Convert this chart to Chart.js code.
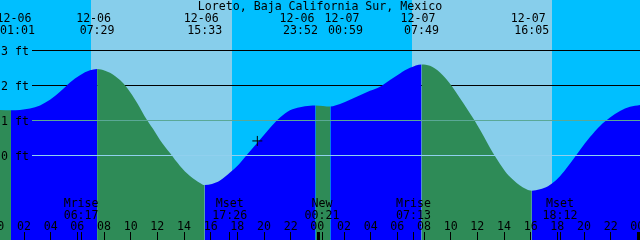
<!DOCTYPE html>
<html>
<head>
<meta charset="utf-8">
<title>Loreto tides</title>
<script src="https://cdn.jsdelivr.net/npm/chart.js"></script>
<style>
  body { margin: 0; background: #fff; }
  canvas { display: block; }
</style>
</head>
<body>
<canvas id="tides" width="640" height="240"></canvas>
<script>
const stationName = 'Loreto, Baja California Sur, Mexico';

// hours are counted from 12-06 00:00, heights in feet
const tideHours = [
  0.2, 1.017, 1.7, 2.45, 3.2, 3.95, 4.7, 5.45, 6.2, 6.95, 7.483,
  8.075, 8.45, 9.2, 9.725, 10.475, 11.225, 11.825, 12.2, 12.95, 13.7, 14.45, 15.2, 15.55,
  16.1, 16.7, 17.45, 18.07, 18.69, 19.5, 20.3, 21.2, 21.95, 22.7, 23.45, 23.867,
  24.983, 25.7, 26.45, 27.2, 27.95, 28.7, 29.45, 30.2, 30.95, 31.817,
  32.45, 33.2, 33.65, 34.08, 34.7, 35.77, 36.7, 37.175, 37.7, 38.225, 38.7, 39.2, 39.65, 40.083,
  40.7, 41.3, 41.9, 42.5, 43.1, 43.7, 44.45, 45.2, 45.95, 46.7, 47.45, 48.2];
const tideFeet = [
  1.30, 1.29, 1.30, 1.34, 1.43, 1.59, 1.82, 2.09, 2.30, 2.44, 2.48,
  2.43, 2.37, 2.16, 1.94, 1.51, 1.01, 0.67, 0.44, 0.06, -0.31, -0.60, -0.80, -0.86,
  -0.83, -0.73, -0.50, -0.28, 0.00, 0.36, 0.72, 1.08, 1.29, 1.38, 1.42, 1.43,
  1.40, 1.47, 1.59, 1.72, 1.85, 1.97, 2.16, 2.35, 2.51, 2.61,
  2.57, 2.38, 2.20, 1.99, 1.64, 1.01, 0.39, 0.06, -0.25, -0.53, -0.71, -0.87, -0.97, -1.02,
  -0.98, -0.89, -0.72, -0.47, -0.17, 0.15, 0.52, 0.84, 1.08, 1.27, 1.39, 1.44];

// high / low water
const eventHours = [1.017, 7.483, 15.55, 23.867, 24.983, 31.817, 40.083];
const eventDates = ['12-06', '12-06', '12-06', '12-06', '12-07', '12-07', '12-07'];
const eventTimes = ['01:01', '07:29', '15:33', '23:52', '00:59', '07:49', '16:05'];

const sunriseHours = [7.03, 31.08];
const sunsetHours = [17.58, 41.58];

const moonHours = [6.283, 17.433, 24.35, 31.217, 42.2];
const moonNames = ['Mrise', 'Mset', 'New', 'Mrise', 'Mset'];
const moonTimes = ['06:17', '17:26', '00:21', '07:13', '18:12'];

const depthLevels = [3, 2, 1, 0];
const depthLabels = ['3 ft', '2 ft', '1 ft', '0 ft'];
const mslFeet = 1;
const datumFeet = 0;

const hourTicks = [0, 2, 4, 6, 8, 10, 12, 14, 16, 18, 20, 22, 24, 26, 28, 30, 32, 34, 36, 38, 40, 42, 44, 46, 48];
const hourLabels = ['00', '02', '04', '06', '08', '10', '12', '14', '16', '18', '20', '22',
  '00', '02', '04', '06', '08', '10', '12', '14', '16', '18', '20', '22', '00'];

const markHour = 19.5;
const markFeet = 0.41;

const FONT = '11.6px "DejaVu Sans Mono"';
const NIGHT = '#00bfff';
const DAY = '#87ceeb';
const FLOOD = '#0000ff';
const EBB = '#2e8b57';
const MSL = '#5aa896';
const DATUM = '#90d0ee';
const LABEL_W = 35;   // five characters
const LABEL_GAP = 10;

const tidePoints = tideHours.map((h, i) => ({ x: h, y: tideFeet[i] }));

// centre of each high/low label, kept on the canvas and pushed apart when two collide
function labelCentres(xs, right) {
  const cs = xs.map(px => Math.min(Math.max(px, LABEL_W / 2), right - LABEL_W / 2));
  for (let i = 0; i < cs.length - 1; i++) {
    const short = LABEL_W + LABEL_GAP - (cs[i + 1] - cs[i]);
    if (short > 0) {
      cs[i] -= short / 2;
      cs[i + 1] += short / 2;
    }
  }
  return cs;
}

const backdrop = {
  id: 'backdrop',
  beforeDatasetsDraw(chart) {
    const { ctx, chartArea: a, scales: { x, y } } = chart;
    ctx.save();
    ctx.fillStyle = NIGHT;
    ctx.fillRect(a.left, a.top, a.width, a.height);
    ctx.fillStyle = DAY;
    sunriseHours.forEach((h, i) => {
      const x0 = Math.round(x.getPixelForValue(h));
      const x1 = Math.round(x.getPixelForValue(sunsetHours[i]));
      ctx.fillRect(x0, a.top, x1 - x0, a.height);
    });
    ctx.strokeStyle = '#000';
    ctx.lineWidth = 1;
    depthLevels.forEach(d => {
      const yy = Math.floor(y.getPixelForValue(d)) + 0.5;
      ctx.beginPath();
      ctx.moveTo(32, yy);
      ctx.lineTo(a.right, yy);
      ctx.stroke();
    });
    ctx.restore();
  },
  afterDatasetsDraw(chart) {
    const { ctx, chartArea: a, scales: { x, y } } = chart;
    ctx.save();
    ctx.lineWidth = 1;
    [[mslFeet, MSL], [datumFeet, DATUM]].forEach(([d, c]) => {
      const yy = Math.floor(y.getPixelForValue(d)) + 0.5;
      ctx.strokeStyle = c;
      ctx.beginPath();
      ctx.moveTo(32, yy);
      ctx.lineTo(a.right, yy);
      ctx.stroke();
    });

    ctx.font = FONT;
    ctx.fillStyle = '#000';
    ctx.textAlign = 'left';
    depthLevels.forEach((d, i) => {
      ctx.fillText(depthLabels[i], 1, Math.floor(y.getPixelForValue(d)) + 4.7);
    });

    ctx.textAlign = 'center';
    ctx.fillText(stationName, 320, 10);

    const centres = labelCentres(eventHours.map(h => x.getPixelForValue(h)), a.right);
    centres.forEach((cx, i) => {
      ctx.fillText(eventDates[i], cx - 3.5, 21.7);
      ctx.fillText(eventTimes[i], cx, 33.7);
    });

    moonHours.forEach((h, i) => {
      const px = x.getPixelForValue(h);
      ctx.fillText(moonNames[i], px, 206.7);
      ctx.fillText(moonTimes[i], px, 218.5);
      ctx.fillRect(Math.floor(px), 232, 1, 8);
    });

    hourTicks.forEach((h, i) => {
      const px = x.getPixelForValue(h);
      ctx.fillText(hourLabels[i], px, 230);
      ctx.fillRect(Math.floor(px), 232, h % 24 === 0 ? 3 : 1, 8);
    });
    ctx.restore();
  }
};

new Chart(document.getElementById('tides'), {
  type: 'line',
  data: {
    datasets: [
      {
        type: 'scatter',
        data: [{ x: markHour, y: markFeet }],
        pointStyle: 'cross',
        pointRadius: 5,
        borderColor: '#000',
        borderWidth: 1
      },
      {
        data: tidePoints,
        fill: 'start',
        backgroundColor: FLOOD,
        borderColor: 'transparent',
        borderWidth: 0,
        pointRadius: 0,
        cubicInterpolationMode: 'monotone',
        segment: {
          backgroundColor: c => c.p1.parsed.y > c.p0.parsed.y ? FLOOD : EBB
        }
      }
    ]
  },
  options: {
    responsive: false,
    animation: false,
    devicePixelRatio: 1,
    events: [],
    layout: { padding: 0, autoPadding: false },
    plugins: { legend: { display: false }, tooltip: { enabled: false } },
    scales: {
      x: { type: 'linear', min: 0.2, max: 48.2, display: false },
      y: { min: -2.437, max: 4.46, display: false }
    }
  },
  plugins: [backdrop]
});
</script>
</body>
</html>
